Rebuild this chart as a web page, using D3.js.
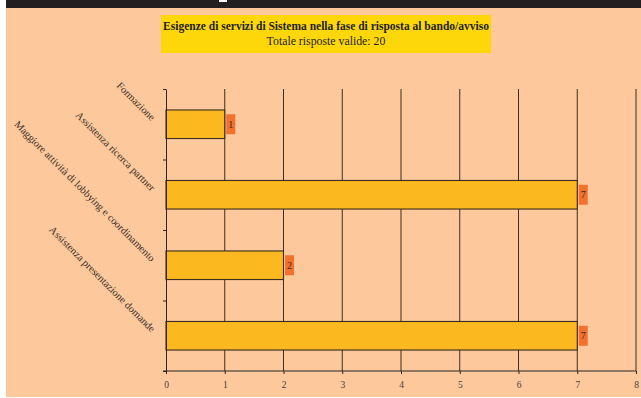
<!DOCTYPE html>
<html>
<head>
<meta charset="utf-8">
<script src="https://cdn.jsdelivr.net/npm/d3@7/dist/d3.min.js"></script>
<style>
  html, body { margin: 0; padding: 0; background: #ffffff; }
  svg { display: block; }
</style>
</head>
<body>
<svg id="chart" width="641" height="398"></svg>
<script>
// Survey: needs for system services when answering a call for proposals
const categories = [
  "Formazione",
  "Assistenza ricerca partner",
  "Maggiore attività di lobbying e coordinamento",
  "Assistenza presentazione domande"
];
const values = [1, 7, 2, 7];
const xTicks = [0, 1, 2, 3, 4, 5, 6, 7, 8];
const titleLine1 = "Esigenze di servizi di Sistema nella fase di risposta al bando/avviso";
const titleLine2 = "Totale risposte valide: 20";

const svg = d3.select("#chart");
const serif = "'Liberation Serif', 'DejaVu Serif', serif";

// page background and header strip
svg.append("rect").attr("x", 6).attr("y", 0).attr("width", 635).attr("height", 397).attr("fill", "#fcc89c");
svg.append("rect").attr("x", 6).attr("y", 0).attr("width", 635).attr("height", 8).attr("fill", "#231f20");
svg.append("rect").attr("x", 219).attr("y", 0).attr("width", 8).attr("height", 2).attr("fill", "#ffffff");

// title box
svg.append("rect").attr("x", 161).attr("y", 15).attr("width", 330).attr("height", 38).attr("fill", "#fed70a");
svg.append("text").attr("x", 326).attr("y", 29.5).attr("text-anchor", "middle")
  .attr("font-family", serif).attr("font-size", 11.5).attr("font-weight", "bold").attr("fill", "#231f20")
  .text(titleLine1);
svg.append("text").attr("x", 326).attr("y", 44.5).attr("text-anchor", "middle")
  .attr("font-family", serif).attr("font-size", 11.8).attr("fill", "#231f20")
  .text(titleLine2);

// scales
const x = d3.scaleLinear().domain([0, 8]).range([166, 636]);
const y = d3.scaleBand().domain(categories).range([89, 371]);
const yEdges = d3.scaleLinear().domain([0, categories.length]).range([89, 371]);
const barH = y.bandwidth() * 0.405;

// vertical gridlines
svg.append("g").selectAll("line").data(xTicks.filter(d => d > 0)).join("line")
  .attr("x1", d => x(d)).attr("x2", d => x(d))
  .attr("y1", 89).attr("y2", 371)
  .attr("stroke", "#3b2f25").attr("stroke-width", 1);

// bars
svg.append("g").selectAll("rect").data(values).join("rect")
  .attr("x", x(0))
  .attr("y", (d, i) => y(categories[i]) + (y.bandwidth() - barH) / 2)
  .attr("width", d => x(d) - x(0))
  .attr("height", barH)
  .attr("fill", "#fcb81f")
  .attr("stroke", "#3a2c1e").attr("stroke-width", 1.1);

// value labels
const lab = svg.append("g").selectAll("g").data(values).join("g")
  .attr("transform", (d, i) => `translate(${x(d) + 1.5},${y(categories[i]) + y.bandwidth() / 2})`);
lab.append("rect").attr("x", 0).attr("y", -10).attr("width", 9).attr("height", 20).attr("fill", "#f3702f");
lab.append("text").attr("x", 4.5).attr("y", 3.5).attr("text-anchor", "middle")
  .attr("font-family", serif).attr("font-size", 10).attr("fill", "#3a2a1a")
  .text(d => d);

// x axis
const xAxis = svg.append("g").attr("transform", "translate(0,371)")
  .call(d3.axisBottom(x).tickValues(xTicks).tickSize(3).tickSizeOuter(0).tickFormat(d3.format("d")));
xAxis.select(".domain").attr("stroke", "#2b2420").attr("d", "M163,0H636");
xAxis.selectAll(".tick line").attr("stroke", "#2b2420");
xAxis.selectAll(".tick text").attr("font-family", serif).attr("font-size", 9.5).attr("fill", "#4a3f38")
  .attr("y", 14).attr("dy", "0.32em");

// y axis with ticks at category boundaries
const yAxis = svg.append("g").attr("transform", "translate(166,0)")
  .call(d3.axisLeft(yEdges).ticks(categories.length).tickSize(3).tickSizeOuter(0).tickFormat(""));
yAxis.select(".domain").attr("stroke", "#2b2420");
yAxis.selectAll(".tick line").attr("stroke", "#2b2420");

// rotated category labels
svg.append("g").selectAll("text").data(categories).join("text")
  .attr("transform", d => `translate(151,${y(d) + y.bandwidth() / 2 - 3}) rotate(45)`)
  .attr("text-anchor", "end")
  .attr("font-family", serif).attr("font-size", 10.4).attr("fill", "#3a302a")
  .text(d => d);
</script>
</body>
</html>
